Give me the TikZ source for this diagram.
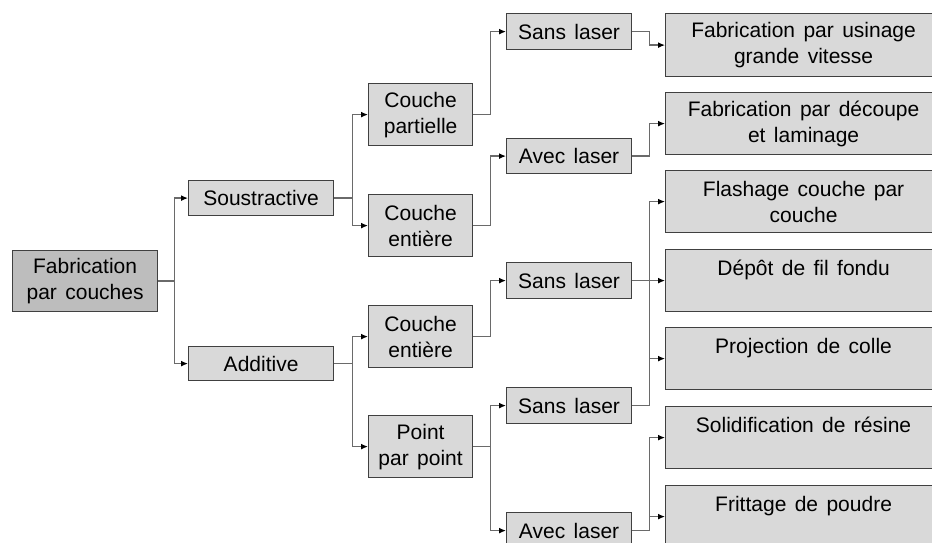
\documentclass[tikz,border=0pt]{standalone}
\usepackage{fontspec}
\setmainfont{Liberation Sans}
\usetikzlibrary{arrows.meta}
\definecolor{boxfill}{HTML}{D9D9D9}
\definecolor{rootfill}{HTML}{BDBDBD}
\definecolor{boxline}{HTML}{404040}
\definecolor{connline}{HTML}{6A6A6A}
\begin{document}
\begin{tikzpicture}[x=1pt,y=-1pt,
  box/.style={draw=boxline,fill=boxfill,line width=1.2pt,inner sep=0pt,align=center,
    anchor=north west,font=\fontsize{21}{26}\selectfont,
    execute at begin node={\spaceskip=0.4em plus 0.1em\relax}},
  conn/.style={draw=connline,line width=1.3pt,-{Latex[length=7pt,width=6pt,color=black]}}]
\fill[white] (0,0) rectangle (932,542);
\clip (0,0) rectangle (932,542);
% level 0
\node[box,fill=rootfill,minimum width=145pt,minimum height=61pt] (root) at (12,250) {Fabrication\\par couches};
% level 1
\node[box,minimum width=145pt,minimum height=35pt] (sous) at (188,180) {Soustractive};
\node[box,minimum width=145pt,minimum height=34pt] (add) at (188,346) {Additive};
% level 2
\node[box,minimum width=104pt,minimum height=62pt] (cp) at (368,83) {Couche\\partielle};
\node[box,minimum width=104pt,minimum height=62pt] (ce1) at (368,194) {Couche\\entière};
\node[box,minimum width=104pt,minimum height=62pt] (ce2) at (368,305) {Couche\\entière};
\node[box,minimum width=104pt,minimum height=62pt] (ppp) at (368,415) {Point\\par point};
% level 3
\node[box,minimum width=125pt,minimum height=36pt] (sl1) at (506,13) {Sans laser};
\node[box,minimum width=125pt,minimum height=35pt] (al1) at (506,138) {Avec laser};
\node[box,minimum width=125pt,minimum height=36pt] (sl2) at (506,262) {Sans laser};
\node[box,minimum width=125pt,minimum height=36pt] (sl3) at (506,387) {Sans laser};
\node[box,minimum width=125pt,minimum height=36pt] (al2) at (506,512) {Avec laser};
% level 4
\node[box,minimum width=276pt,minimum height=63pt] (usi) at (665,13) {Fabrication par usinage\\grande vitesse};
\node[box,minimum width=276pt,minimum height=62pt] (dec) at (665,92) {Fabrication par découpe\\et laminage};
\node[box,minimum width=276pt,minimum height=62pt] (fla) at (665,170) {Flashage couche par\\couche};
\node[box,minimum width=276pt,minimum height=62pt] (dep) at (665,249) {Dépôt de fil fondu\\\mbox{}};
\node[box,minimum width=276pt,minimum height=62pt] (pro) at (665,327) {Projection de colle\\\mbox{}};
\node[box,minimum width=276pt,minimum height=62pt] (sol) at (665,406) {Solidification de résine\\\mbox{}};
\node[box,minimum width=276pt,minimum height=62pt] (fri) at (665,485) {Frittage de poudre\\\mbox{}};
% connectors
\draw[conn] (root.east) -- ++(16,0) |- (sous.west);
\draw[conn] (root.east) -- ++(16,0) |- (add.west);
\draw[conn] (sous.east) -- ++(18,0) |- (cp.west);
\draw[conn] (sous.east) -- ++(18,0) |- (ce1.west);
\draw[conn] (add.east) -- ++(18,0) |- (ce2.west);
\draw[conn] (add.east) -- ++(18,0) |- (ppp.west);
\draw[conn] (cp.east) -- ++(17,0) |- (sl1.west);
\draw[conn] (ce1.east) -- ++(17,0) |- (al1.west);
\draw[conn] (ce2.east) -- ++(17,0) |- (sl2.west);
\draw[conn] (ppp.east) -- ++(17,0) |- (sl3.west);
\draw[conn] (ppp.east) -- ++(17,0) |- (al2.west);
\draw[conn] (sl1.east) -- ++(17,0) |- (usi.west);
\draw[conn] (al1.east) -- ++(17,0) |- (dec.west);
\draw[conn] (sl2.east) -- ++(17,0) |- (dep.west);
\draw[conn] (sl3.east) -- ++(17,0) |- (fla.west);
\draw[conn] (sl3.east) -- ++(17,0) |- (pro.west);
\draw[conn] (al2.east) -- ++(17,0) |- (sol.west);
\draw[conn] (al2.east) -- ++(17,0) |- (fri.west);
\end{tikzpicture}
\end{document}
